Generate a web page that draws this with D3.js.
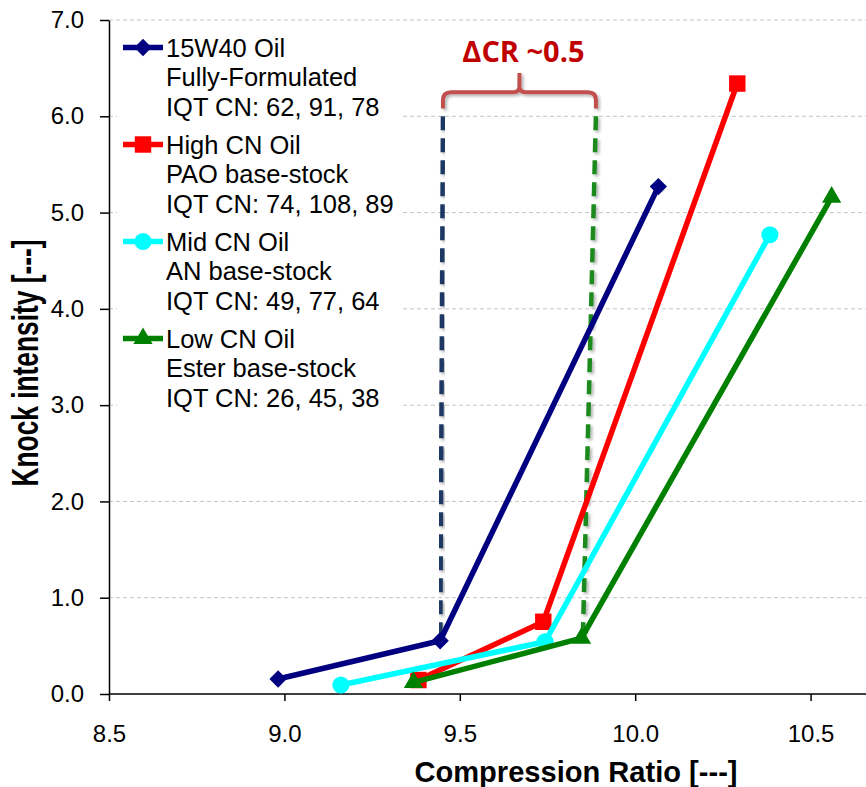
<!DOCTYPE html>
<html>
<head>
<meta charset="utf-8">
<script src="https://cdn.jsdelivr.net/npm/d3@7"></script>
<style>
  body { margin: 0; background: #fff; }
  text { font-family: "Liberation Sans", Arial, sans-serif; }
</style>
</head>
<body>
<svg id="chart"></svg>
<script>
// series data
var seriesNames = ["15W40 Oil", "High CN Oil", "Mid CN Oil", "Low CN Oil"];
var seriesSub = ["Fully-Formulated", "PAO base-stock", "AN base-stock", "Ester base-stock"];
var seriesCN = ["IQT CN: 62, 91, 78", "IQT CN: 74, 108, 89", "IQT CN: 49, 77, 64", "IQT CN: 26, 45, 38"];
var seriesColors = ["#000080", "#ff0000", "#00ffff", "#008000"];
var seriesShapes = ["diamond", "square", "circle", "triangle"];

var crOil15W40 = [8.982, 9.444, 10.066];
var kiOil15W40 = [0.156, 0.553, 5.27];
var crHighCN = [9.382, 9.738, 10.291];
var kiHighCN = [0.145, 0.75, 6.34];
var crMidCN = [9.161, 9.743, 10.384];
var kiMidCN = [0.093, 0.543, 4.77];
var crLowCN = [9.368, 9.847, 10.56];
var kiLowCN = [0.12, 0.58, 5.16];

var xTicks = [8.5, 9.0, 9.5, 10.0, 10.5];
var yTicks = [0, 1, 2, 3, 4, 5, 6, 7];

// annotation: dashed guides and brace (data coords)
var guideX = [[9.452, 9.4445], [9.888, 9.851]];
var guideY = [[6.0, 0.6], [6.0, 0.62]];
var guideColors = ["#1f3864", "#1e8a1e"];
var braceX = [9.452, 9.888];
var braceY = [6.08, 6.25, 6.45];
var braceLabel = "\u0394CR ~0.5";

var width = 866, height = 787;
var margin = {top: 20, left: 109, bottom: 93};

var svg = d3.select("#chart")
    .attr("width", width)
    .attr("height", height);

var x = d3.scaleLinear()
    .domain([8.5, 10.7])
    .range([margin.left, margin.left + 2.2 * 350.8]);

var y = d3.scaleLinear()
    .domain([0, 7])
    .range([height - margin.bottom, margin.top]);

var defs = svg.append("defs");
var shadow = defs.append("filter").attr("id", "shadow")
    .attr("x", "-50%").attr("y", "-50%").attr("width", "200%").attr("height", "200%");
shadow.append("feDropShadow")
    .attr("dx", 2).attr("dy", 2).attr("stdDeviation", 1.5)
    .attr("flood-color", "#000").attr("flood-opacity", 0.3);

// gridlines
svg.append("g")
  .selectAll("line")
  .data(yTicks.filter(function(d) { return d > 0; }))
  .enter()
  .append("line")
    .attr("x1", margin.left)
    .attr("x2", width)
    .attr("y1", function(d) { return y(d); })
    .attr("y2", function(d) { return y(d); })
    .style("stroke", "#c4c4c4")
    .style("stroke-width", 1)
    .style("stroke-dasharray", "4,3");

// axes
var xAxis = svg.append("g")
    .attr("transform", "translate(0," + y(0) + ")")
    .call(d3.axisBottom(x).tickValues(xTicks).tickSize(7).tickPadding(24)
      .tickFormat(d3.format(".1f")).tickSizeOuter(0));
xAxis.select(".domain").attr("d", "M" + margin.left + ",0H" + width);

var yAxis = svg.append("g")
    .attr("transform", "translate(" + margin.left + ",0)")
    .call(d3.axisLeft(y).tickValues(yTicks).tickSize(9).tickPadding(16)
      .tickFormat(d3.format(".1f")).tickSizeOuter(0));

svg.selectAll(".tick text")
    .style("font-family", "'Liberation Sans', Arial, sans-serif")
    .style("font-size", "24px")
    .style("fill", "#000");
svg.selectAll(".domain, .tick line")
    .style("stroke", "#000")
    .style("stroke-width", 1.5);

// axis titles
svg.append("text")
    .attr("x", 576)
    .attr("y", 782)
    .attr("text-anchor", "middle")
    .attr("textLength", 323)
    .attr("lengthAdjust", "spacingAndGlyphs")
    .style("font-weight", "bold")
    .style("font-size", "30px")
    .text("Compression Ratio [---]");

svg.append("text")
    .attr("transform", "translate(38,363) rotate(-90)")
    .attr("text-anchor", "middle")
    .attr("textLength", 247)
    .attr("lengthAdjust", "spacingAndGlyphs")
    .style("font-weight", "bold")
    .style("font-size", "37px")
    .text("Knock intensity [---]");

// legend box hides gridlines behind it
svg.append("rect")
    .attr("x", 117).attr("y", 28)
    .attr("width", 286).attr("height", 392)
    .style("fill", "#fff");

// dashed guide lines
guideX.forEach(function(gx, i) {
  svg.append("line")
      .attr("x1", x(gx[0])).attr("y1", y(guideY[i][0]))
      .attr("x2", x(gx[1])).attr("y2", y(guideY[i][1]))
      .style("stroke", guideColors[i])
      .style("stroke-width", 4.5)
      .style("stroke-dasharray", "14,8")
      .attr("filter", "url(#shadow)");
});

// curly brace
var bx0 = x(braceX[0]), bx1 = x(braceX[1]), bm = (bx0 + bx1) / 2;
var by0 = y(braceY[0]), by1 = y(braceY[1]), by2 = y(braceY[2]);
var braceD = "M" + bx0 + "," + by0 +
    "V" + (by1 + 8) + "Q" + bx0 + "," + by1 + " " + (bx0 + 8) + "," + by1 +
    "H" + (bm - 6) + "Q" + bm + "," + by1 + " " + bm + "," + (by1 - 6) +
    "V" + by2 +
    "M" + bm + "," + (by1 - 6) + "Q" + bm + "," + by1 + " " + (bm + 6) + "," + by1 +
    "H" + (bx1 - 8) + "Q" + bx1 + "," + by1 + " " + bx1 + "," + (by1 + 8) +
    "V" + by0;
svg.append("path")
    .attr("d", braceD)
    .style("fill", "none")
    .style("stroke", "#c0504d")
    .style("stroke-width", 4)
    .attr("filter", "url(#shadow)");

svg.append("text")
    .attr("x", bm + 4)
    .attr("y", by2 - 11)
    .attr("text-anchor", "middle")
    .style("font-family", "'Open Sans', sans-serif")
    .style("font-weight", "bold")
    .style("font-size", "29px")
    .style("fill", "#c00000")
    .text(braceLabel);

// series
var seriesData = [
  d3.zip(crOil15W40, kiOil15W40),
  d3.zip(crHighCN, kiHighCN),
  d3.zip(crMidCN, kiMidCN),
  d3.zip(crLowCN, kiLowCN)
];

function symbolFor(shape) {
  if (shape === "diamond") {
    return d3.symbol().type(d3.symbolSquare).size(150)();
  } else if (shape === "square") {
    return d3.symbol().type(d3.symbolSquare).size(270)();
  } else if (shape === "circle") {
    return d3.symbol().type(d3.symbolCircle).size(230)();
  } else {
    return d3.symbol().type(d3.symbolTriangle).size(160)();
  }
}

var line = d3.line()
    .x(function(d) { return x(d[0]); })
    .y(function(d) { return y(d[1]); });

seriesData.forEach(function(data, i) {
  var g = svg.append("g");
  g.append("path")
      .datum(data)
      .attr("d", line)
      .style("fill", "none")
      .style("stroke", seriesColors[i])
      .style("stroke-width", 5.5)
      .style("stroke-linejoin", "round");
  g.selectAll("path.pt")
    .data(data)
    .enter()
    .append("path")
      .attr("class", "pt")
      .attr("d", symbolFor(seriesShapes[i]))
      .attr("transform", function(d) {
        var t = "translate(" + x(d[0]) + "," + y(d[1]) + ")";
        return seriesShapes[i] === "diamond" ? t + " rotate(45)" : t;
      })
      .style("fill", seriesColors[i]);
});

// legend
var legend = svg.append("g");
seriesNames.forEach(function(name, i) {
  var base = 57 + i * 97;
  var item = legend.append("g");
  item.append("line")
      .attr("x1", 123).attr("x2", 163)
      .attr("y1", base - 9.5).attr("y2", base - 9.5)
      .style("stroke", seriesColors[i])
      .style("stroke-width", 5.5);
  item.append("path")
      .attr("d", symbolFor(seriesShapes[i]))
      .attr("transform", "translate(143," + (base - 9.5) + ")" +
        (seriesShapes[i] === "diamond" ? " rotate(45)" : ""))
      .style("fill", seriesColors[i]);
  [name, seriesSub[i], seriesCN[i]].forEach(function(t, j) {
    item.append("text")
        .attr("x", 166)
        .attr("y", base + j * 29.3)
        .style("font-size", "25.5px")
        .style("fill", "#000")
        .text(t);
  });
});
</script>
</body>
</html>
